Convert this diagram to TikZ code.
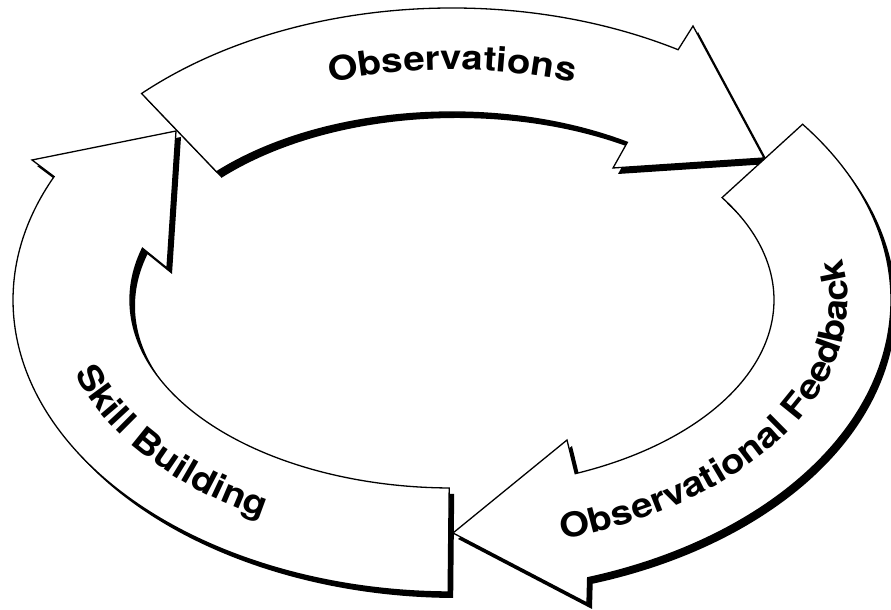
\documentclass[tikz,border=0pt]{standalone}
\usepackage{fontspec}
\setmainfont{TeX Gyre Heros}
\newfontfamily\lblfam[FakeStretch=1.13]{TeX Gyre Heros}
\usetikzlibrary{decorations.text}
\newcommand{\lblfont}{\lblfam\bfseries\fontsize{34}{40}\selectfont}
% arrow outlines, relative to the centre of the cycle
\newcommand{\ArrObs}{(135:439 and 292) arc[start angle=135,end angle=59,x radius=439pt,y radius=292pt]
  -- (241,274) -- (312,142) -- (161,132)
  -- (57:322 and 188) arc[start angle=57,end angle=137,x radius=322pt,y radius=188pt] -- cycle}
\newcommand{\ArrFeed}{(37:439 and 292) arc[start angle=37,end angle=-72,x radius=439pt,y radius=292pt]
  -- (135,-303) -- (1,-233) -- (115,-140)
  -- (-67.5:322 and 188) arc[start angle=-67.5,end angle=33,x radius=322pt,y radius=188pt] -- cycle}
\newcommand{\ArrSkill}{(-90.5:439 and 292) arc[start angle=269.5,end angle=155,x radius=439pt,y radius=292pt]
  -- (-420,140) -- (-276,169) -- (-285,32)
  -- (164:322 and 188) arc[start angle=164,end angle=269.5,x radius=322pt,y radius=188pt] -- cycle}
\tikzset{
  shadowfill/.style={fill=black, shift={(5,-6)}},
  arrowbody/.style={fill=white, draw=black, line width=1.3pt, line join=miter},
}
\begin{document}
\begin{tikzpicture}[x=1pt,y=1pt]
\useasboundingbox (0,0) rectangle (891,610);
\begin{scope}[shift={(452,310)}]
  \path[shadowfill] \ArrSkill;
  \path[arrowbody] \ArrSkill;
  \path[shadowfill] \ArrObs;
  \path[arrowbody] \ArrObs;
  \path[shadowfill] \ArrFeed;
  \path[arrowbody] \ArrFeed;
  % labels
  \path[decorate, decoration={text along path, text align=center, text={|\lblfont|Observations}}]
    (150:377 and 230) arc[start angle=150,end angle=30,x radius=377pt,y radius=230pt];
  \path[decorate, decoration={text along path, text align=center, text={|\lblfont|Skill Building}}]
    (183:395 and 248) arc[start angle=183,end angle=251,x radius=395pt,y radius=248pt];
  \path[decorate, decoration={text along path, text align=center, text={|\lblfont|Observational Feedback}}]
    (-78:396 and 249) arc[start angle=-78,end angle=16,x radius=396pt,y radius=249pt];
\end{scope}
\end{tikzpicture}
\end{document}
